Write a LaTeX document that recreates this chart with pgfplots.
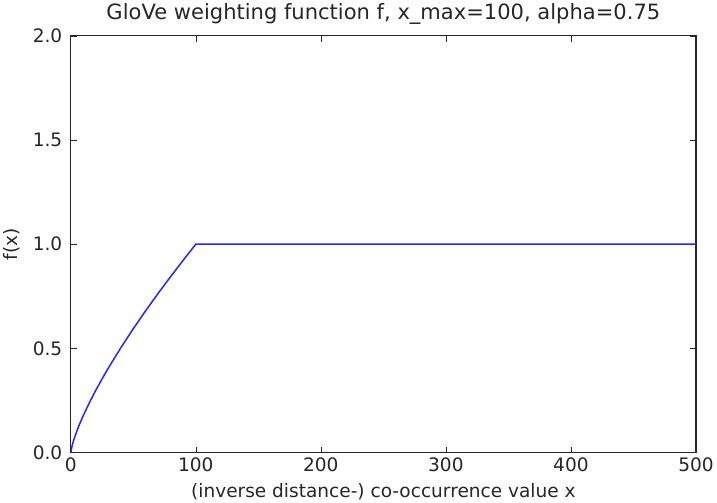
\documentclass[border=0pt]{standalone}
\usepackage{fontspec}
\setmainfont{DejaVu Sans}
\usepackage{pgfplots}
\pgfplotsset{compat=1.18}

\begin{document}
\begin{tikzpicture}
\begin{axis}[
    width=624pt,
    height=416pt,
    scale only axis,
    xmin=0, xmax=500,
    ymin=0, ymax=2,
    xtick={0,100,200,300,400,500},
    ytick={0,0.5,1,1.5,2},
    yticklabel style={/pgf/number format/fixed, /pgf/number format/fixed zerofill, /pgf/number format/precision=1, xshift=-5pt},
    xticklabel style={yshift=-2pt},
    /pgf/number format/assume math mode=true,
    tick label style={font=\fontsize{18.5}{22}\selectfont, text=black!85},
    label style={font=\fontsize{18.5}{22}\selectfont, text=black!85},
    title style={font=\fontsize{21}{25}\selectfont, text=black!85, yshift=2pt},
    title={GloVe weighting function f, x\_max=100, alpha=0.75},
    xlabel={(inverse distance-) co-occurrence value x},
    ylabel={f(x)},
    axis line style={line width=1.2pt, black!85},
    major tick length=6pt,
    tick style={black!85, line width=0.6pt},
    xtick pos=both, ytick pos=both,
    ylabel style={yshift=6pt},
    xlabel style={yshift=-4pt},
]
\addplot[blue!85!white, line width=1.5pt] coordinates {
    (0,0) (1,0.0316) (2,0.0532) (3,0.0721) (5,0.1057) (7,0.1363)
    (10,0.1778) (15,0.2410) (20,0.2991) (25,0.3536) (30,0.4054)
    (40,0.5030) (50,0.5946) (60,0.6818) (70,0.7653) (80,0.8459)
    (90,0.9240) (100,1.0) (500,1.0)
};
\end{axis}
\end{tikzpicture}
\end{document}
